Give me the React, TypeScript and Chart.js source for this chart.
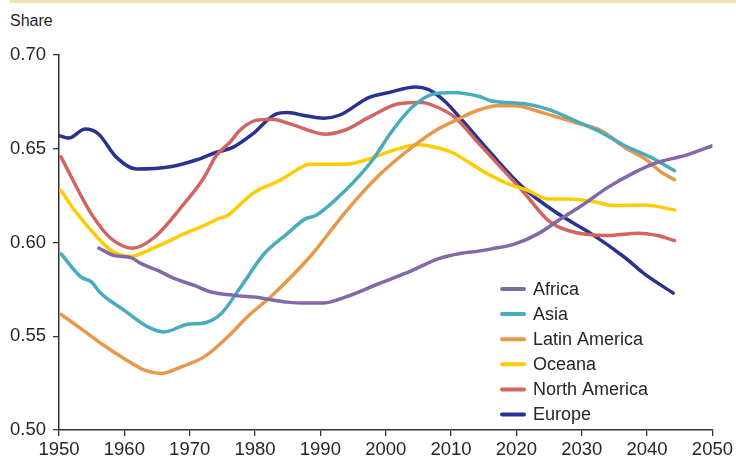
import React, { useEffect, useRef } from "react";
import { Chart, registerables } from "chart.js";

Chart.register(...registerables);

const FONT = '"Liberation Sans", Arial, sans-serif';

const xTicks = [1950, 1960, 1970, 1980, 1990, 2000, 2010, 2020, 2030, 2040, 2050];
const yTicks = [0.5, 0.55, 0.6, 0.65, 0.7];

const africaYears = [1956.1, 1958.5, 1961, 1962.6, 1965.1, 1967.7, 1970.7, 1973.3, 1976.8, 1979.9, 1982.4, 1984.9, 1987.5, 1990.3, 1993.8, 1998.9, 2004, 2008, 2011.6, 2014.2, 2016.2, 2019.8, 2023.3, 2026.4, 2030, 2034, 2038.1, 2041.6, 2045.7, 2050];
const africaShare = [0.597, 0.593, 0.5919, 0.5887, 0.5851, 0.5807, 0.5771, 0.5736, 0.5718, 0.5709, 0.5695, 0.5682, 0.5677, 0.5677, 0.5709, 0.578, 0.585, 0.5913, 0.5943, 0.5954, 0.5966, 0.5993, 0.6046, 0.6117, 0.6197, 0.6294, 0.6374, 0.6427, 0.6463, 0.6516];

const asiaYears = [1950.3, 1953.4, 1955, 1956.2, 1960, 1963.6, 1966.1, 1969.7, 1972.2, 1974.8, 1977.8, 1981.4, 1984.9, 1987.7, 1989.3, 1993.8, 1997.9, 2001, 2004, 2007.1, 2010.2, 2014.2, 2016.2, 2021.3, 2024.9, 2029, 2033, 2036.6, 2040.6, 2044.2];
const asiaShare = [0.594, 0.5815, 0.5789, 0.5736, 0.5638, 0.555, 0.5523, 0.5564, 0.5571, 0.562, 0.5762, 0.594, 0.6046, 0.6126, 0.6144, 0.6277, 0.6436, 0.6596, 0.672, 0.679, 0.68, 0.678, 0.6755, 0.674, 0.671, 0.6649, 0.6587, 0.6516, 0.6454, 0.6383];

const latamYears = [1950.3, 1954.4, 1956.5, 1960, 1963.1, 1965.6, 1968.7, 1972.2, 1975.8, 1978.8, 1982.9, 1988.8, 1993.8, 1998.9, 2004, 2008, 2011.1, 2013.7, 2017.2, 2019.8, 2023.9, 2029, 2033, 2036.6, 2040.1, 2042.2, 2044.2];
const latamShare = [0.5617, 0.5514, 0.546, 0.538, 0.5319, 0.5302, 0.5337, 0.539, 0.5496, 0.5603, 0.5727, 0.594, 0.6161, 0.6356, 0.6507, 0.6605, 0.6658, 0.67, 0.6729, 0.6729, 0.6693, 0.664, 0.6596, 0.6507, 0.6436, 0.6374, 0.6335];

const oceanaYears = [1950.3, 1952.4, 1955.4, 1958, 1961, 1963.6, 1966.1, 1969.7, 1972.2, 1974.3, 1975.8, 1977.8, 1979.9, 1983.8, 1986.2, 1988.3, 1993.8, 1997.4, 2001, 2005, 2006.5, 2010.2, 2011.1, 2015.2, 2018.8, 2021.8, 2024.9, 2027.9, 2031.5, 2035, 2039.6, 2044.2];
const oceanaShare = [0.6277, 0.617, 0.6046, 0.5957, 0.5926, 0.5957, 0.5996, 0.6055, 0.609, 0.6126, 0.6144, 0.6206, 0.6268, 0.6332, 0.6383, 0.6418, 0.6418, 0.6445, 0.649, 0.6521, 0.6516, 0.648, 0.6463, 0.6374, 0.6312, 0.6277, 0.6232, 0.6232, 0.622, 0.6197, 0.62, 0.6174];

const northAmericaYears = [1950.3, 1955, 1958, 1961.3, 1964.6, 1968.7, 1972.2, 1974, 1976.3, 1977.6, 1980, 1982.6, 1985.6, 1990.7, 1993.8, 1997.4, 2002, 2005.5, 2008, 2010.6, 2014.2, 2016.2, 2021.3, 2024.9, 2027.9, 2034, 2038.6, 2041.6, 2044.2];
const northAmericaShare = [0.6457, 0.615, 0.602, 0.597, 0.6028, 0.6188, 0.6347, 0.646, 0.654, 0.6596, 0.665, 0.6658, 0.663, 0.6578, 0.66, 0.6667, 0.674, 0.6747, 0.672, 0.6667, 0.653, 0.6454, 0.626, 0.6117, 0.6064, 0.6037, 0.605, 0.6037, 0.601];

const europeYears = [1950, 1951.5, 1954, 1956, 1958.8, 1961.8, 1967, 1971, 1974, 1976.6, 1979.6, 1983.2, 1985, 1987.7, 1990.5, 1993, 1997.4, 2000.5, 2004.5, 2006.5, 2009, 2011.5, 2016, 2021, 2026.4, 2031.5, 2036.6, 2039.6, 2044];
const europeShare = [0.657, 0.6557, 0.6605, 0.658, 0.6454, 0.6392, 0.6404, 0.644, 0.648, 0.6507, 0.6578, 0.6685, 0.6693, 0.6676, 0.6663, 0.668, 0.6773, 0.68, 0.683, 0.6817, 0.6755, 0.666, 0.648, 0.6294, 0.6153, 0.6046, 0.592, 0.5833, 0.573];

const seriesNames = ["Africa", "Asia", "Latin America", "Oceana", "North America", "Europe"];
const seriesColors = ["#8368a9", "#48abbe", "#e8984a", "#ffcc00", "#d2655f", "#27338f"];
const seriesYears = [africaYears, asiaYears, latamYears, oceanaYears, northAmericaYears, europeYears];
const seriesShares = [africaShare, asiaShare, latamShare, oceanaShare, northAmericaShare, europeShare];

const legendPlugin = {
  id: "insideLegend",
  afterDraw(chart: any) {
    const ctx = chart.ctx;
    const area = chart.chartArea;
    const x0 = area.left + 443;
    const y0 = area.top + 234;
    const step = 25.1;
    ctx.save();
    ctx.font = `18px ${FONT}`;
    ctx.textBaseline = "middle";
    ctx.textAlign = "left";
    chart.data.datasets.forEach((ds: any, i: number) => {
      const y = y0 + i * step;
      ctx.strokeStyle = ds.borderColor;
      ctx.lineWidth = 4;
      ctx.lineCap = "round";
      ctx.beginPath();
      ctx.moveTo(x0, y);
      ctx.lineTo(x0 + 22, y);
      ctx.stroke();
      ctx.fillStyle = "#262626";
      ctx.fillText(ds.label, x0 + 31, y + 1);
    });
    ctx.restore();
  },
};

export default function App() {
  const ref = useRef<HTMLCanvasElement | null>(null);

  useEffect(() => {
    if (!ref.current) return;
    const datasets = seriesNames.map((name, i) => ({
      label: name,
      data: seriesYears[i].map((yr, j) => ({ x: yr, y: seriesShares[i][j] })),
      borderColor: seriesColors[i],
      backgroundColor: seriesColors[i],
      borderWidth: 3.5,
      pointRadius: 0,
      cubicInterpolationMode: "monotone" as const,
      borderCapStyle: "round" as const,
      borderJoinStyle: "round" as const,
      fill: false,
    }));
    const chart = new Chart(ref.current, {
      type: "line",
      data: { datasets },
      plugins: [legendPlugin],
      options: {
        animation: false,
        responsive: false,
        maintainAspectRatio: false,
        layout: { padding: { top: 55, right: 21, left: 0, bottom: 0 } },
        plugins: { legend: { display: false }, tooltip: { enabled: false } },
        scales: {
          x: {
            type: "linear",
            min: 1950,
            max: 2050,
            afterBuildTicks: (scale: any) => {
              scale.ticks = xTicks.map((v) => ({ value: v }));
            },
            afterFit: (scale: any) => {
              scale.height = 28;
            },
            grid: { drawOnChartArea: false, drawTicks: true, tickLength: 6, color: "#333", lineWidth: 1.3 },
            border: { display: true, color: "#333", width: 1.5 },
            ticks: {
              color: "#262626",
              font: { family: FONT, size: 18.5 },
              padding: 3,
              maxRotation: 0,
              callback: (v: any) => String(v),
            },
          },
          y: {
            type: "linear",
            min: 0.5,
            max: 0.7,
            afterBuildTicks: (scale: any) => {
              scale.ticks = yTicks.map((v) => ({ value: v }));
            },
            afterFit: (scale: any) => {
              scale.width = 59;
            },
            grid: { drawOnChartArea: false, drawTicks: true, tickLength: 6, color: "#333", lineWidth: 1.3 },
            border: { display: true, color: "#333", width: 1.5 },
            ticks: {
              color: "#262626",
              font: { family: FONT, size: 18.5 },
              padding: 7,
              callback: (v: any) => Number(v).toFixed(2),
            },
          },
        },
      },
    });
    return () => chart.destroy();
  }, []);

  return (
    <div style={{ position: "absolute", left: 0, top: 0, width: 736, height: 458, background: "#fff", overflow: "hidden" }}>
      <div style={{ position: "absolute", left: 10, top: 0, width: 726, height: 2.5, background: "#f3dcb6" }} />
      <div
        style={{
          position: "absolute",
          left: 10,
          top: 12,
          fontFamily: FONT,
          fontSize: 16,
          lineHeight: "17px",
          color: "#262626",
        }}
      >
        Share
      </div>
      <canvas ref={ref} width={736} height={458} style={{ position: "absolute", left: 0, top: 0, width: 736, height: 458 }} />
    </div>
  );
}
